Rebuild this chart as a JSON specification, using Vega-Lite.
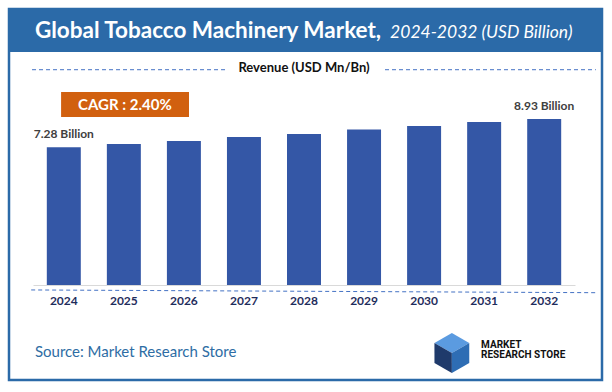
{
  "$schema": "https://vega.github.io/schema/vega-lite/v6.json",
  "autosize": {"type": "none"},
  "padding": {"left": 9, "top": 9, "right": 10, "bottom": 12},
  "width": 593,
  "height": 371,
  "background": "white",
  "config": {
    "view": {"stroke": "#2B6AA8", "strokeWidth": 2.5},
    "font": "Lato"
  },
  "datasets": {
    "market": [
      {"year": "2024", "value": 7.28, "label": "7.28 Billion"},
      {"year": "2025", "value": 7.47, "label": ""},
      {"year": "2026", "value": 7.65, "label": ""},
      {"year": "2027", "value": 7.88, "label": ""},
      {"year": "2028", "value": 8.05, "label": ""},
      {"year": "2029", "value": 8.31, "label": ""},
      {"year": "2030", "value": 8.52, "label": ""},
      {"year": "2031", "value": 8.75, "label": ""},
      {"year": "2032", "value": 8.93, "label": "8.93 Billion"}
    ],
    "one": [{}]
  },
  "layer": [
    {
      "data": {"name": "market"},
      "mark": {"type": "bar", "color": "#3457A6"},
      "encoding": {
        "x": {
          "field": "year", "type": "nominal",
          "scale": {"domain": ["2024","2025","2026","2027","2028","2029","2030","2031","2032"], "range": [24, 566], "paddingInner": 0.434, "paddingOuter": 0.23},
          "axis": {"orient": "bottom", "offset": -95, "title": null, "ticks": false, "domainColor": "#D9D9D9", "domainWidth": 1, "labelFont": "Lato", "labelFontWeight": "bold", "labelFontSize": 12, "labelColor": "#1F2D5C", "labelPadding": 10, "labelAngle": 0, "grid": false}
        },
        "y": {"field": "value", "type": "quantitative", "scale": {"domain": [-6.29, 15.34], "nice": false, "zero": false}, "axis": null},
        "y2": {"datum": -0.75}
      }
    },
    {
      "data": {"name": "market"},
      "transform": [{"filter": "datum.label != ''"}],
      "mark": {"type": "text", "baseline": "bottom", "dy": -6, "font": "Lato", "fontWeight": "bold", "fontSize": 12, "color": "#404040"},
      "encoding": {
        "x": {"field": "year", "type": "nominal"},
        "y": {"field": "value", "type": "quantitative"},
        "text": {"field": "label"}
      }
    },
    {
      "data": {"name": "one"},
      "mark": {"type": "rule", "color": "#2B6AA8", "strokeWidth": 44, "strokeCap": "butt"},
      "encoding": {
        "x": {"datum": "2024", "type": "nominal", "bandPosition": -1.11},
        "x2": {"datum": "2032", "bandPosition": 2.2},
        "y": {"datum": 14.12, "type": "quantitative"}
      }
    },
    {
      "data": {"name": "one"},
      "mark": {"type": "text", "align": "left", "baseline": "alphabetic", "font": "Lato", "fontWeight": "bold", "fontSize": 22.5, "color": "white", "text": "Global Tobacco Machinery Market,"},
      "encoding": {
        "x": {"datum": "2024", "type": "nominal", "bandPosition": -0.35},
        "y": {"datum": 13.65, "type": "quantitative"}
      }
    },
    {
      "data": {"name": "one"},
      "mark": {"type": "text", "align": "left", "baseline": "alphabetic", "font": "Lato", "fontStyle": "italic", "fontSize": 17.5, "color": "white", "text": "2024-2032 (USD Billion)"},
      "encoding": {
        "x": {"datum": "2030", "type": "nominal", "bandPosition": -0.5},
        "y": {"datum": 13.65, "type": "quantitative"}
      }
    },
    {
      "data": {"name": "one"},
      "mark": {"type": "rule", "color": "#4472C4", "strokeWidth": 1, "strokeDash": [4, 3]},
      "encoding": {
        "x": {"datum": "2024", "type": "nominal", "bandPosition": -0.435},
        "x2": {"datum": "2027", "bandPosition": -0.03},
        "y": {"datum": 11.8, "type": "quantitative"}
      }
    },
    {
      "data": {"name": "one"},
      "mark": {"type": "rule", "color": "#4472C4", "strokeWidth": 1, "strokeDash": [4, 3]},
      "encoding": {
        "x": {"datum": "2030", "type": "nominal", "bandPosition": -0.65},
        "x2": {"datum": "2032", "bandPosition": 2.02},
        "y": {"datum": 11.8, "type": "quantitative"}
      }
    },
    {
      "data": {"name": "one"},
      "mark": {"type": "text", "align": "center", "baseline": "middle", "font": "Lato", "fontWeight": "bold", "fontSize": 13, "color": "#111111", "text": "Revenue (USD Mn/Bn)"},
      "encoding": {
        "x": {"datum": "2028", "type": "nominal"},
        "y": {"datum": 11.9, "type": "quantitative"}
      }
    },
    {
      "data": {"name": "one"},
      "mark": {"type": "rule", "color": "#D1600F", "strokeWidth": 25, "strokeCap": "butt"},
      "encoding": {
        "x": {"datum": "2024", "type": "nominal", "bandPosition": 0.42},
        "x2": {"datum": "2026", "bandPosition": 0.65},
        "y": {"datum": 9.77, "type": "quantitative"}
      }
    },
    {
      "data": {"name": "one"},
      "mark": {"type": "text", "align": "center", "baseline": "middle", "font": "Lato", "fontWeight": "bold", "fontSize": 15, "color": "white", "text": "CAGR : 2.40%"},
      "encoding": {
        "x": {"datum": "2025", "type": "nominal", "bandPosition": 0.53},
        "y": {"datum": 9.77, "type": "quantitative"}
      }
    },
    {
      "data": {"name": "one"},
      "mark": {"type": "rule", "color": "#4472C4", "strokeWidth": 1, "strokeDash": [4, 3]},
      "encoding": {
        "x": {"datum": "2024", "type": "nominal", "bandPosition": -0.46},
        "x2": {"datum": "2032", "bandPosition": 2.02},
        "y": {"datum": -1.04, "type": "quantitative"},
        "y2": {"datum": -1.2}
      }
    },
    {
      "data": {"name": "one"},
      "mark": {"type": "text", "align": "left", "baseline": "middle", "font": "Lato", "fontSize": 15, "color": "#2E6DA4", "text": "Source: Market Research Store"},
      "encoding": {
        "x": {"datum": "2024", "type": "nominal", "bandPosition": -0.35},
        "y": {"datum": -4.66, "type": "quantitative"}
      }
    },
    {
      "data": {"name": "one"},
      "mark": {"type": "point", "filled": true, "color": "#5B9BE0", "opacity": 1, "size": 1600, "shape": "M0,-1 L0.87,-0.5 L0,0 L-0.87,-0.5 Z"},
      "encoding": {
        "x": {"datum": "2031", "type": "nominal", "bandPosition": -0.45},
        "y": {"datum": -4.71, "type": "quantitative"}
      }
    },
    {
      "data": {"name": "one"},
      "mark": {"type": "point", "filled": true, "color": "#1F3A6B", "opacity": 1, "size": 1600, "shape": "M-0.87,-0.5 L0,0 L0,1 L-0.87,0.5 Z"},
      "encoding": {
        "x": {"datum": "2031", "type": "nominal", "bandPosition": -0.45},
        "y": {"datum": -4.71, "type": "quantitative"}
      }
    },
    {
      "data": {"name": "one"},
      "mark": {"type": "point", "filled": true, "color": "#2E6DB4", "opacity": 1, "size": 1600, "shape": "M0,0 L0.87,-0.5 L0.87,0.5 L0,1 Z"},
      "encoding": {
        "x": {"datum": "2031", "type": "nominal", "bandPosition": -0.45},
        "y": {"datum": -4.71, "type": "quantitative"}
      }
    },
    {
      "data": {"name": "one"},
      "mark": {"type": "text", "align": "left", "baseline": "middle", "font": "Liberation Sans Narrow, Roboto", "fontWeight": "bold", "fontSize": 10, "color": "#111111", "text": "MARKET"},
      "encoding": {
        "x": {"datum": "2031", "type": "nominal", "bandPosition": 0.41},
        "y": {"datum": -4.25, "type": "quantitative"}
      }
    },
    {
      "data": {"name": "one"},
      "mark": {"type": "text", "align": "left", "baseline": "middle", "font": "Liberation Sans Narrow, Roboto", "fontWeight": "bold", "fontSize": 10, "color": "#111111", "text": "RESEARCH STORE"},
      "encoding": {
        "x": {"datum": "2031", "type": "nominal", "bandPosition": 0.41},
        "y": {"datum": -4.83, "type": "quantitative"}
      }
    }
  ]
}
